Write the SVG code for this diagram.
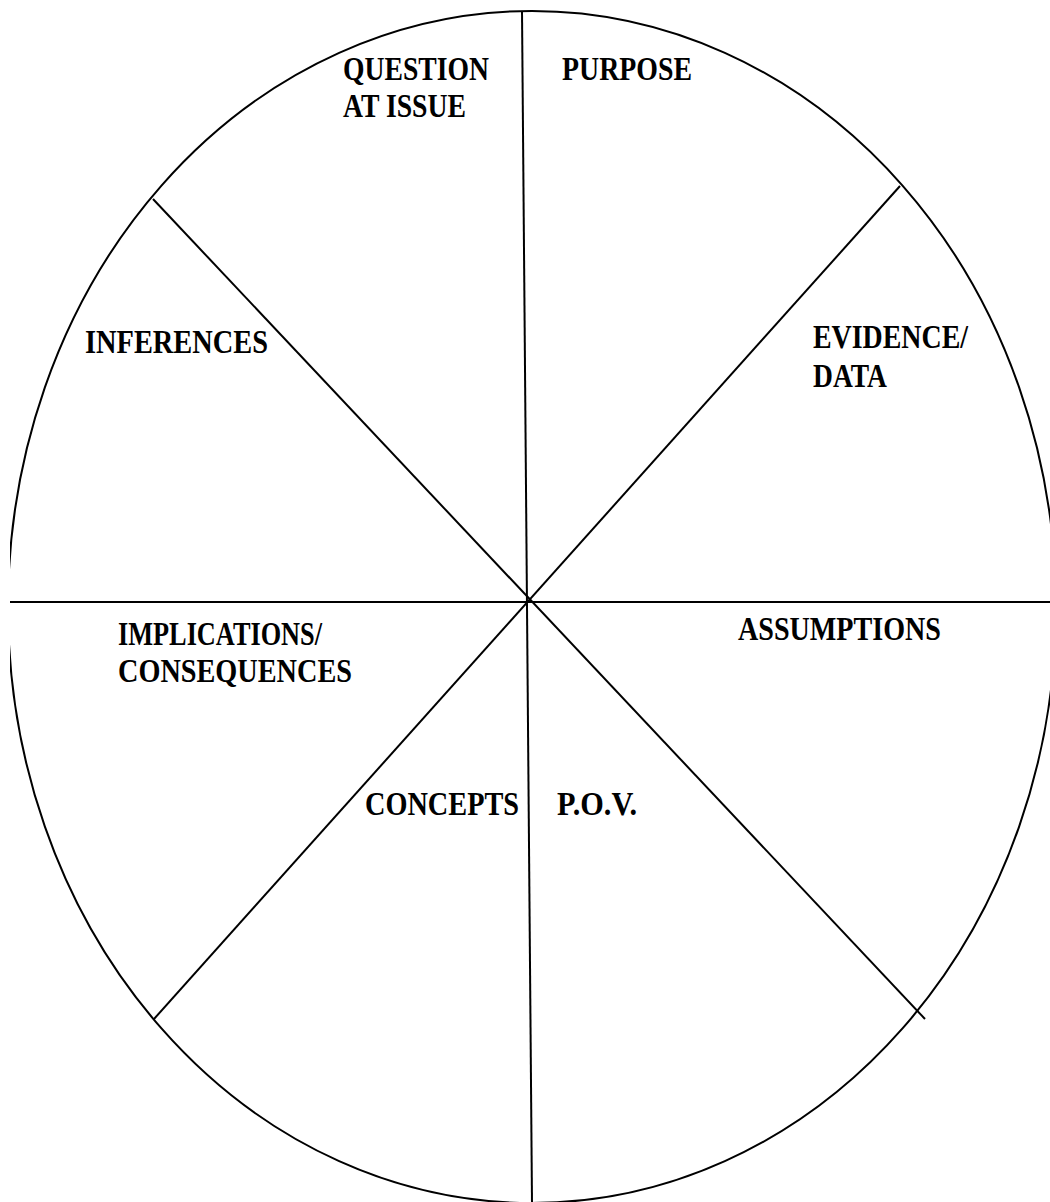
<svg xmlns="http://www.w3.org/2000/svg" width="1050" height="1202" viewBox="0 0 1050 1202">
<style>
.lbl{font-family:"Liberation Serif","Times New Roman",serif;font-weight:bold;font-size:33px;fill:#000}
.ln{stroke:#000;stroke-width:2;fill:none}
</style>
<defs><clipPath id="c"><rect x="10" y="0" width="1040" height="1202"/></clipPath></defs>
<rect width="1050" height="1202" fill="#fff"/>
<g id="wheel" clip-path="url(#c)">
<ellipse class="ln" cx="532" cy="607" rx="524" ry="596"/>
</g>
<g id="connectors">
<line class="ln" x1="522" y1="11" x2="532" y2="1202"/>
<line class="ln" x1="10" y1="602" x2="1050" y2="602"/>
<line class="ln" x1="153" y1="199" x2="925" y2="1019"/>
<line class="ln" x1="900" y1="186" x2="154" y2="1019"/>
</g>
<g id="question"><text class="lbl" x="343" y="80" textLength="146" lengthAdjust="spacingAndGlyphs">QUESTION</text><text class="lbl" x="343" y="117" textLength="123" lengthAdjust="spacingAndGlyphs">AT ISSUE</text></g>
<g id="purpose"><text class="lbl" x="562" y="80" textLength="130" lengthAdjust="spacingAndGlyphs">PURPOSE</text></g>
<g id="inferences"><text class="lbl" x="85" y="353" textLength="183" lengthAdjust="spacingAndGlyphs">INFERENCES</text></g>
<g id="evidence"><text class="lbl" x="813" y="348" textLength="155" lengthAdjust="spacingAndGlyphs">EVIDENCE/</text><text class="lbl" x="813" y="387" textLength="74" lengthAdjust="spacingAndGlyphs">DATA</text></g>
<g id="implications"><text class="lbl" x="118" y="645" textLength="204" lengthAdjust="spacingAndGlyphs">IMPLICATIONS/</text><text class="lbl" x="118" y="682" textLength="234" lengthAdjust="spacingAndGlyphs">CONSEQUENCES</text></g>
<g id="assumptions"><text class="lbl" x="738" y="640" textLength="203" lengthAdjust="spacingAndGlyphs">ASSUMPTIONS</text></g>
<g id="concepts"><text class="lbl" x="365" y="815" textLength="154" lengthAdjust="spacingAndGlyphs">CONCEPTS</text></g>
<g id="pov"><text class="lbl" x="557" y="815" textLength="80" lengthAdjust="spacingAndGlyphs">P.O.V.</text></g>
</svg>
